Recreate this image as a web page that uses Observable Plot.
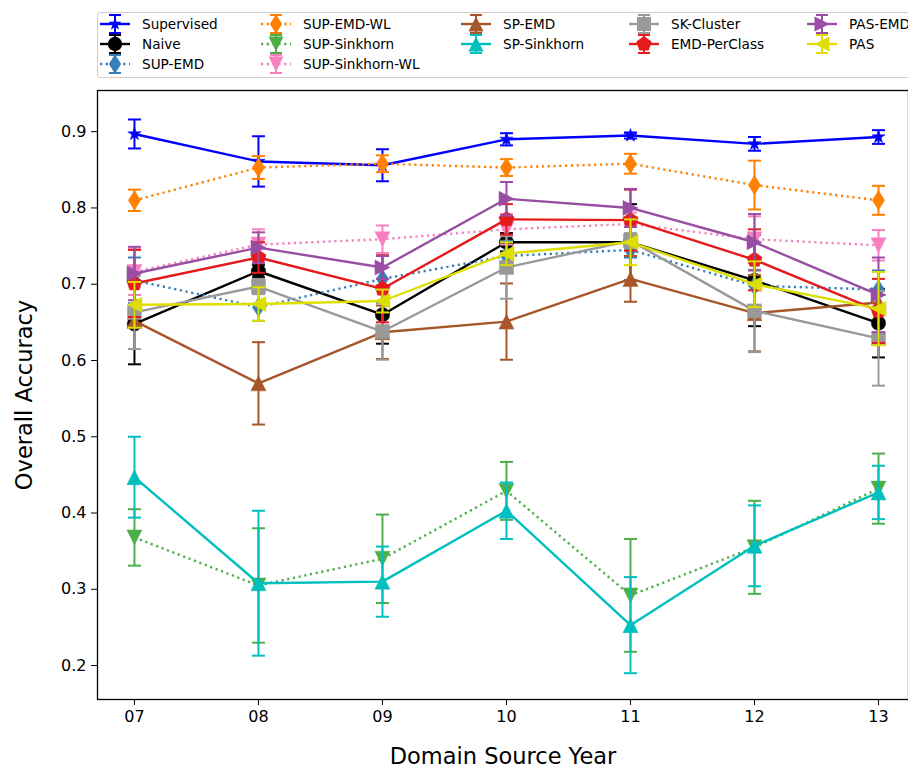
<!DOCTYPE html>
<html><head><meta charset="utf-8">
<script src="https://cdn.jsdelivr.net/npm/d3@7"></script>
<script src="https://cdn.jsdelivr.net/npm/@observablehq/plot@0.6"></script>
<style>
body{margin:0;background:#fff;font-family:"DejaVu Sans",sans-serif;}
#wrap{position:relative;width:908px;height:767px;overflow:hidden;background:#fff;}
#legend{position:absolute;left:97px;top:12px;width:840px;height:66px;border:1px solid #cfcfcf;border-radius:3px;background:#fff;box-sizing:border-box;}
.item{position:absolute;font-size:13.6px;line-height:16px;color:#000;white-space:nowrap;}
.item svg{position:absolute;overflow:visible;}
</style></head><body>
<div id="wrap"><div id="chart"></div><div id="legend"></div></div>
<script>
const years = [7, 8, 9, 10, 11, 12, 13];
const yTicks = [0.2, 0.3, 0.4, 0.5, 0.6, 0.7, 0.8, 0.9];

const supervised      = [0.897, 0.861, 0.856, 0.890, 0.895, 0.884, 0.893];
const supervisedErr   = [0.019, 0.033, 0.021, 0.008, 0.004, 0.009, 0.009];
const naive           = [0.648, 0.717, 0.660, 0.755, 0.755, 0.705, 0.649];
const naiveErr        = [0.053, 0.008, 0.038, 0.012, 0.050, 0.060, 0.045];
const supEmd          = [0.705, 0.670, 0.707, 0.737, 0.745, 0.698, 0.693];
const supEmdErr       = [0.030, 0.018, 0.030, 0.020, 0.010, 0.030, 0.025];
const supEmdWl        = [0.810, 0.853, 0.858, 0.853, 0.858, 0.830, 0.810];
const supEmdWlErr     = [0.014, 0.015, 0.011, 0.011, 0.013, 0.032, 0.019];
const supSink         = [0.368, 0.305, 0.340, 0.429, 0.292, 0.355, 0.432];
const supSinkErr      = [0.037, 0.075, 0.058, 0.038, 0.074, 0.061, 0.046];
const supSinkWl       = [0.716, 0.752, 0.759, 0.772, 0.779, 0.759, 0.751];
const supSinkWlErr    = [0.030, 0.020, 0.018, 0.020, 0.015, 0.030, 0.020];
const spEmd           = [0.652, 0.570, 0.637, 0.651, 0.707, 0.662, 0.676];
const spEmdErr        = [0.006, 0.054, 0.035, 0.050, 0.030, 0.050, 0.010];
const spSink          = [0.447, 0.308, 0.310, 0.403, 0.253, 0.357, 0.427];
const spSinkErr       = [0.053, 0.095, 0.046, 0.037, 0.063, 0.053, 0.035];
const skCluster       = [0.663, 0.697, 0.638, 0.722, 0.757, 0.665, 0.629];
const skClusterErr    = [0.048, 0.010, 0.037, 0.041, 0.010, 0.054, 0.062];
const emdPerClass     = [0.701, 0.735, 0.694, 0.785, 0.784, 0.732, 0.665];
const emdPerClassErr  = [0.044, 0.020, 0.044, 0.020, 0.040, 0.040, 0.042];
const pasEmd          = [0.714, 0.748, 0.722, 0.812, 0.800, 0.755, 0.686];
const pasEmdErr       = [0.035, 0.020, 0.015, 0.022, 0.025, 0.037, 0.049];
const pas             = [0.673, 0.674, 0.678, 0.740, 0.755, 0.700, 0.668];
const pasErr          = [0.030, 0.022, 0.015, 0.015, 0.030, 0.030, 0.048];

// custom marker shapes (r = radius derived from size)
function sym(fn){return {draw(c,size){const r=Math.sqrt(size/Math.PI);fn(c,r);}};}
const shapes = {
  circle: sym((c,r)=>{c.moveTo(r,0);c.arc(0,0,r,0,2*Math.PI);c.closePath();}),
  square: sym((c,r)=>{c.rect(-r,-r,2*r,2*r);}),
  triUp: sym((c,r)=>{c.moveTo(0,-r);c.lineTo(r,r);c.lineTo(-r,r);c.closePath();}),
  triDown: sym((c,r)=>{c.moveTo(0,r);c.lineTo(r,-r);c.lineTo(-r,-r);c.closePath();}),
  triLeft: sym((c,r)=>{c.moveTo(-r,0);c.lineTo(r,-r);c.lineTo(r,r);c.closePath();}),
  triRight: sym((c,r)=>{c.moveTo(r,0);c.lineTo(-r,-r);c.lineTo(-r,r);c.closePath();}),
  thinDiamond: sym((c,r)=>{c.moveTo(0,-r*1.35);c.lineTo(r*0.85,0);c.lineTo(0,r*1.35);c.lineTo(-r*0.85,0);c.closePath();}),
  pentagon: sym((c,r)=>{for(let k=0;k<5;k++){const a=-Math.PI/2+k*2*Math.PI/5;const px=r*Math.cos(a),py=r*Math.sin(a);k?c.lineTo(px,py):c.moveTo(px,py);}c.closePath();}),
  star: sym((c,r)=>{for(let k=0;k<10;k++){const a=-Math.PI/2+k*Math.PI/5;const rr=k%2?r*0.38:r;const px=rr*Math.cos(a),py=rr*Math.sin(a);k?c.lineTo(px,py):c.moveTo(px,py);}c.closePath();}),
  cap: sym((c,r)=>{c.moveTo(-r,0);c.lineTo(r,0);})
};

const series = [
  {name:"Supervised", v:supervised, e:supervisedErr, color:"#0000ff", dash:null, shape:"star", r:7},
  {name:"Naive", v:naive, e:naiveErr, color:"#000000", dash:null, shape:"circle", r:7.2},
  {name:"SUP-EMD", v:supEmd, e:supEmdErr, color:"#377eb8", dash:"2.2,3.6", shape:"thinDiamond", r:7.2},
  {name:"SUP-EMD-WL", v:supEmdWl, e:supEmdWlErr, color:"#ff7f00", dash:"2.2,3.6", shape:"thinDiamond", r:7.2},
  {name:"SUP-Sinkhorn", v:supSink, e:supSinkErr, color:"#4daf4a", dash:"2.2,3.6", shape:"triDown", r:7.5},
  {name:"SUP-Sinkhorn-WL", v:supSinkWl, e:supSinkWlErr, color:"#f781bf", dash:"2.2,3.6", shape:"triDown", r:7.5},
  {name:"SP-EMD", v:spEmd, e:spEmdErr, color:"#a65628", dash:null, shape:"triUp", r:7.5},
  {name:"SP-Sinkhorn", v:spSink, e:spSinkErr, color:"#00bfbf", dash:null, shape:"triUp", r:7.5},
  {name:"SK-Cluster", v:skCluster, e:skClusterErr, color:"#999999", dash:null, shape:"square", r:7},
  {name:"EMD-PerClass", v:emdPerClass, e:emdPerClassErr, color:"#e41a1c", dash:null, shape:"pentagon", r:8},
  {name:"PAS-EMD", v:pasEmd, e:pasEmdErr, color:"#984ea3", dash:null, shape:"triRight", r:7.5},
  {name:"PAS", v:pas, e:pasErr, color:"#dede00", dash:null, shape:"triLeft", r:7.5}
];

const marks = [];
for (const s of series) {
  const data = years.map((x,i)=>({x, y:s.v[i], lo:s.v[i]-s.e[i], hi:s.v[i]+s.e[i]}));
  marks.push(Plot.line(data,{x:"x",y:"y",stroke:s.color,strokeWidth:2.4,strokeDasharray:s.dash||undefined,strokeLinecap:"butt"}));
  marks.push(Plot.ruleX(data,{x:"x",y1:"lo",y2:"hi",stroke:s.color,strokeWidth:2}));
  marks.push(Plot.dot(data,{x:"x",y:"lo",symbol:shapes.cap,r:6.5,stroke:s.color,strokeWidth:2,fill:"none"}));
  marks.push(Plot.dot(data,{x:"x",y:"hi",symbol:shapes.cap,r:6.5,stroke:s.color,strokeWidth:2,fill:"none"}));
  marks.push(Plot.dot(data,{x:"x",y:"y",symbol:shapes[s.shape],r:s.r,fill:s.color,stroke:s.color,strokeWidth:0.5}));
}
marks.push(Plot.frame({stroke:"#000",strokeWidth:1.3}));

const chart = Plot.plot({
  width:908, height:767,
  marginTop:90, marginBottom:68, marginLeft:97, marginRight:0,
  style:{fontFamily:"DejaVu Sans, sans-serif", fontSize:"16px", color:"#000", background:"#fff"},
  x:{domain:[6.702,13.242], ticks:years, tickFormat:d=>String(d).padStart(2,"0"), tickSize:6, tickPadding:5,
     label:"Domain Source Year", labelAnchor:"center", labelArrow:"none", labelOffset:64},
  y:{domain:[0.1555,0.954], ticks:yTicks, tickFormat:d3.format(".1f"), tickSize:6, tickPadding:5,
     label:"Overall Accuracy", labelAnchor:"center", labelArrow:"none", labelOffset:81},
  marks
});
document.getElementById("chart").appendChild(chart);
chart.querySelectorAll("[aria-label='x-axis label'] text, [aria-label='y-axis label'] text").forEach(t=>t.style.fontSize="22.5px");
chart.querySelectorAll("[aria-label='x-axis label'], [aria-label='y-axis label']").forEach(g=>g.setAttribute("font-size","22.5"));

// legend
const legend = document.getElementById("legend");
const colX = [142, 303, 503, 671, 849];
const rowY = [24, 44, 64];
const perCol = [3,3,2,2,2];
let idx = 0;
perCol.forEach((n,ci)=>{
  for(let ri=0;ri<n;ri++){
    const s = series[idx++];
    const div = document.createElement("div");
    div.className="item";
    div.style.left=(colX[ci]-97-1)+"px";
    div.style.top=(rowY[ri]-12-1-8)+"px";
    div.textContent=s.name;
    const ns="http://www.w3.org/2000/svg";
    const svg=document.createElementNS(ns,"svg");
    svg.setAttribute("width","34");svg.setAttribute("height","32");
    svg.style.top="-8px";svg.style.left="-44px";
    const g=document.createElementNS(ns,"g");g.setAttribute("transform","translate(17,16)");
    const ln=document.createElementNS(ns,"line");
    ln.setAttribute("x1",-15);ln.setAttribute("x2",15);ln.setAttribute("y1",0);ln.setAttribute("y2",0);
    ln.setAttribute("stroke",s.color);ln.setAttribute("stroke-width",2.4);if(s.dash)ln.setAttribute("stroke-dasharray",s.dash);
    g.appendChild(ln);
    const vl=document.createElementNS(ns,"path");
    vl.setAttribute("d","M0,-9V9M-6,-9H6M-6,9H6");vl.setAttribute("stroke",s.color);vl.setAttribute("stroke-width",2);vl.setAttribute("fill","none");
    g.appendChild(vl);
    const mk=document.createElementNS(ns,"path");
    const p=d3.path();shapes[s.shape].draw(p,s.r*s.r*Math.PI);
    mk.setAttribute("d",p.toString());mk.setAttribute("fill",s.color);
    g.appendChild(mk);
    svg.appendChild(g);div.appendChild(svg);legend.appendChild(div);
  }
});
</script></body></html>
